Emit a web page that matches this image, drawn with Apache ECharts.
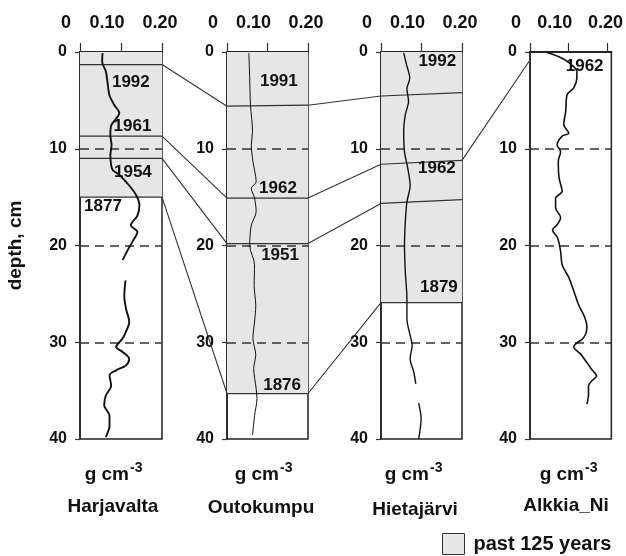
<!DOCTYPE html>
<html><head><meta charset="utf-8">
<script src="https://cdn.jsdelivr.net/npm/echarts@6/dist/echarts.min.js"></script>
<style>html,body{margin:0;padding:0;background:#fff}#c{width:626px;height:556px}</style>
</head><body><div id="c"></div>
<script>
// ---------- data ----------
const sites = ['Harjavalta', 'Outokumpu', 'Hietajärvi', 'Alkkia_Ni'];
const xTicks = [0, 0.1, 0.2];
const xMax = [0.2, 0.2, 0.2, 0.21];
const depthMax = 40;
const depthTicks = [10, 20, 30];
const unitMain = 'g cm';
const unitSup = '-3';
const legendName = 'past 125 years';

// density profiles: [g cm-3, depth cm]; null = gap in record
const harjavalta = [[0.055,0.1],[0.054,1.0],[0.063,2.0],[0.067,3.1],[0.072,4.5],[0.084,5.5],[0.096,6.3],[0.088,6.9],[0.076,7.6],[0.074,8.6],[0.077,9.6],[0.074,10.7],[0.076,11.7],[0.080,12.2],[0.096,12.7],[0.120,13.8],[0.137,14.8],[0.145,15.8],[0.140,16.9],[0.124,17.9],[0.140,18.6],[0.128,19.6],[0.116,20.5],[0.104,21.5],[null,null],[0.111,23.6],[0.108,25.2],[0.112,26.5],[0.120,27.9],[0.111,29.0],[0.104,29.6],[0.088,30.5],[0.104,31.0],[0.120,31.7],[0.112,32.4],[0.088,32.9],[0.072,33.4],[0.076,34.5],[0.063,35.5],[0.059,36.5],[0.072,37.6],[0.072,38.6],[0.063,39.8]];
const outokumpu = [[0.054,0.1],[0.056,2.7],[0.058,5.5],[0.063,8.2],[0.060,9.6],[0.064,11.3],[0.072,13.4],[0.060,14.1],[0.068,15.1],[0.072,16.5],[0.060,17.9],[0.056,20.0],[0.068,22.0],[0.067,24.1],[0.071,26.2],[0.068,27.9],[0.064,29.6],[0.071,31.3],[0.066,32.7],[0.072,34.8],[0.074,35.8],[0.068,37.6],[0.063,39.6]];
const hietajarvi = [[0.056,0.1],[0.063,1.3],[0.071,2.7],[0.064,3.8],[0.068,5.1],[0.060,6.5],[0.056,8.2],[0.058,10.3],[0.066,12.0],[0.072,13.8],[0.064,15.5],[0.060,17.6],[0.058,20.0],[0.060,22.7],[0.064,25.5],[0.064,27.6],[0.072,29.3],[0.077,30.3],[0.072,31.7],[0.081,33.1],[0.086,34.3],[null,null],[0.093,36.3],[0.099,37.9],[0.093,40.0]];
const alkkia = [[0.041,0.0],[0.075,0.5],[0.104,1.2],[0.121,2.0],[0.121,2.7],[0.113,3.7],[0.096,4.4],[0.092,6.2],[0.087,7.5],[0.100,8.4],[0.083,8.7],[0.070,9.6],[0.079,10.3],[0.073,11.3],[0.075,13.0],[0.083,14.4],[0.066,15.1],[0.066,16.1],[0.079,17.1],[0.071,17.8],[0.058,18.4],[0.071,19.2],[0.079,20.6],[0.083,22.0],[0.100,23.3],[0.113,24.7],[0.125,26.1],[0.142,27.5],[0.147,28.5],[0.139,29.5],[0.117,30.2],[0.113,30.5],[0.130,31.2],[0.147,32.1],[0.159,32.8],[0.172,33.5],[0.159,34.0],[0.151,34.5],[0.151,35.4],[0.147,36.4]];
const profiles = [harjavalta, outokumpu, hietajarvi, alkkia];

// depth of the base of the "past 125 years" section per core
const shadeBottom = [15, 35.3, 25.9, null];
// dated horizons inside each core: [depth at left edge, depth at right edge]
const datedLines = [
  [[1.3,1.3],[8.7,8.7],[11,11],[15,15]],
  [[5.6,5.5],[15.1,15.1],[19.8,19.8],[35.3,35.3]],
  [[4.55,4.2],[11.6,11.2],[15.65,15.25],[25.9,25.9]],
  []
];
// correlation lines between neighbouring cores: [depth at right edge of core i, depth at left edge of core i+1]
const connectors = [
  [[1.3,5.6],[8.7,15.1],[11,19.8],[15,35.3]],
  [[5.5,4.55],[15.1,11.6],[19.8,15.65],[35.3,25.9]],
  [[11.2,0.83]]
];
// year labels: [x, depth, text]
const yearLabels = [
  [[0.124,3.1,'1992'],[0.128,7.65,'1961'],[0.129,12.4,'1954'],[0.056,16.0,'1877']],
  [[0.128,3.0,'1991'],[0.126,14.05,'1962'],[0.131,21.0,'1951'],[0.136,34.4,'1876']],
  [[0.139,1.0,'1992'],[0.138,12.0,'1962'],[0.143,24.3,'1879']],
  [[0.141,1.45,'1962']]
];

// ---------- layout / style ----------
const FONT = '"Liberation Sans", Arial, Helvetica, sans-serif';
const INK = '#111';
const gridLeft = [80, 227, 381, 530];
const gridWidth = [82, 81, 81, 82];
const gridTop = 52, gridHeight = 387;
const profileWidth = [1.9, 1.0, 1.4, 1.6];

const chart = echarts.init(document.getElementById('c'), null, {renderer: 'canvas'});

const grids = [], xAxes = [], yAxes = [], series = [];
for (let i = 0; i < 4; i++) {
  grids.push({left: gridLeft[i], top: gridTop, width: gridWidth[i], height: gridHeight,
    show: true, borderColor: '#222', borderWidth: 1.5, backgroundColor: 'transparent'});
  xAxes.push({
    gridIndex: i, type: 'value', position: 'top', min: 0, max: xMax[i], interval: 0.1,
    axisLine: {show: true, onZero: false, lineStyle: {color: '#222', width: 2}},
    axisTick: {show: true, inside: false, length: 9, customValues: xTicks, lineStyle: {color: '#333', width: 1.2}},
    axisLabel: {
      show: true, margin: 20, customValues: xTicks, color: INK,
      fontFamily: FONT, fontWeight: 'bold', fontSize: 18,
      formatter: v => v === 0 ? '{a|0}' : (Math.abs(v - 0.1) < 1e-9 ? '{a|0.10}' : '{b|0.20}'),
      rich: {
        a: {padding: [0, 28, 0, 0], fontFamily: FONT, fontWeight: 'bold', fontSize: 18, color: INK},
        b: {padding: [0, 4, 0, 0], fontFamily: FONT, fontWeight: 'bold', fontSize: 18, color: INK}
      }
    },
    splitLine: {show: false}
  });
  yAxes.push({
    gridIndex: i, type: 'value', inverse: true, min: 0, max: depthMax, interval: 10,
    axisLine: {show: true, onZero: false, lineStyle: {color: '#222', width: 1.5}},
    axisTick: {show: true, inside: false, length: 5, lineStyle: {color: '#333', width: 1.2}},
    axisLabel: {show: true, margin: 13, color: INK, fontFamily: FONT, fontWeight: 'bold', fontSize: 16},
    splitLine: {show: false},
    name: i === 0 ? 'depth, cm' : '', nameLocation: 'middle', nameGap: 55, nameRotate: 90,
    nameTextStyle: {fontFamily: FONT, fontWeight: 'bold', fontSize: 19, color: INK}
  });

  if (shadeBottom[i] != null) {
    series.push({
      name: legendName, type: 'scatter', xAxisIndex: i, yAxisIndex: i, data: [],
      symbol: 'rect', z: -1, silent: true,
      itemStyle: {color: '#e6e6e6', borderColor: '#333', borderWidth: 1, opacity: 1},
      markArea: {silent: true, itemStyle: {color: '#e6e6e6', borderWidth: 0, opacity: 1},
        data: [[{coord: [0, 0]}, {coord: [xMax[i], shadeBottom[i]]}]]}
    });
  }
  series.push({
    type: 'line', xAxisIndex: i, yAxisIndex: i, data: [], z: 3, silent: true,
    markLine: {silent: true, symbol: ['none', 'none'], label: {show: false},
      lineStyle: {type: [9, 6], color: '#333', width: 1.5},
      data: depthTicks.map(d => ({yAxis: d}))}
  });
  datedLines[i].forEach(([l, r]) => {
    series.push({type: 'line', xAxisIndex: i, yAxisIndex: i, data: [[0, l], [xMax[i], r]],
      symbol: 'none', silent: true, z: 4, lineStyle: {color: '#333', width: 1.2}});
  });
  series.push({
    type: 'line', xAxisIndex: i, yAxisIndex: i, data: profiles[i], symbol: 'none', showSymbol: false,
    smooth: 0.3, connectNulls: false, z: 5, silent: true,
    lineStyle: {color: '#111', width: profileWidth[i]}
  });
  series.push({
    type: 'scatter', xAxisIndex: i, yAxisIndex: i, data: yearLabels[i], symbolSize: 0, z: 6, silent: true,
    itemStyle: {opacity: 1},
    label: {show: true, position: 'inside', formatter: p => p.data[2], color: INK, opacity: 1,
      fontFamily: FONT, fontWeight: 'bold', fontSize: 17}
  });
}

const option = {
  animation: false,
  backgroundColor: '#fff',
  grid: grids, xAxis: xAxes, yAxis: yAxes, series: series,
  legend: {
    data: [{name: legendName, icon: 'rect'}],
    left: 437, top: 528, itemWidth: 22, itemHeight: 21, selectedMode: false,
    itemStyle: {color: '#e6e6e6', borderColor: '#333', borderWidth: 1, opacity: 1},
    textStyle: {fontFamily: FONT, fontWeight: 'bold', fontSize: 20, color: INK, padding: [0, 0, 0, 4]}
  }
};
chart.setOption(option);

// bottom texts and correlation lines (pixel positions via the axes' own scales)
const unitJoint = [129, 279, 429, 584];
const nameCenter = [113, 261, 415, 566];
const nameY = [507, 508, 510, 506];
const graphics = [];
for (let i = 0; i < 4; i++) {
  graphics.push({type: 'text', x: unitJoint[i], y: 475, silent: true,
    style: {text: unitMain, font: 'bold 19px ' + FONT, fill: INK, align: 'right', verticalAlign: 'middle'}});
  graphics.push({type: 'text', x: unitJoint[i] + 1, y: 468, silent: true,
    style: {text: unitSup, font: 'bold 14px ' + FONT, fill: INK, align: 'left', verticalAlign: 'middle'}});
  graphics.push({type: 'text', x: nameCenter[i], y: nameY[i], silent: true,
    style: {text: sites[i], font: 'bold 19px ' + FONT, fill: INK, align: 'center', verticalAlign: 'middle'}});
}
connectors.forEach((pairs, i) => {
  pairs.forEach(([a, b]) => {
    const p1 = chart.convertToPixel({xAxisIndex: i, yAxisIndex: i}, [xMax[i], a]);
    const p2 = chart.convertToPixel({xAxisIndex: i + 1, yAxisIndex: i + 1}, [0, b]);
    graphics.push({type: 'line', silent: true, z: 4,
      shape: {x1: p1[0], y1: p1[1], x2: p2[0], y2: p2[1]},
      style: {stroke: '#333', lineWidth: 1.1}});
  });
});
chart.setOption({graphic: graphics});
</script>
</body></html>
